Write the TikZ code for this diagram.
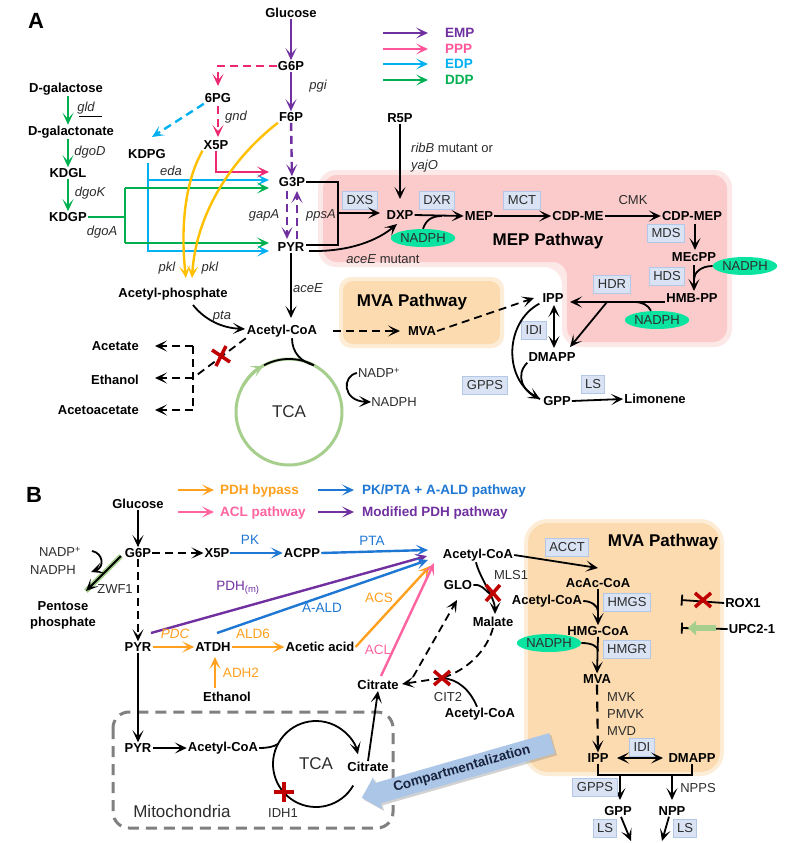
\documentclass[tikz,border=0pt]{standalone}
\usepackage{fontspec}
\setmainfont{Liberation Sans}
\usetikzlibrary{arrows.meta,shapes.geometric,shapes.arrows,shadows}
\definecolor{emp}{RGB}{112,48,160}
\definecolor{ppp}{RGB}{236,40,115}
\definecolor{pppl}{RGB}{255,85,155}
\definecolor{edp}{RGB}{0,176,240}
\definecolor{ddp}{RGB}{0,176,80}
\definecolor{pkl}{RGB}{255,192,0}
\definecolor{enzfill}{RGB}{218,227,243}
\definecolor{enzdraw}{RGB}{180,199,231}
\definecolor{nadph}{RGB}{10,228,160}
\definecolor{mepbg}{RGB}{251,203,203}
\definecolor{mvabg}{RGB}{251,219,175}
\definecolor{tcagreen}{RGB}{166,206,140}
\definecolor{bor}{RGB}{255,160,30}
\definecolor{bblue}{RGB}{31,119,212}
\definecolor{bpink}{RGB}{255,100,160}
\definecolor{xred}{RGB}{192,0,0}
\definecolor{mitogray}{RGB}{128,128,128}
\definecolor{comp}{RGB}{172,198,232}
\definecolor{compt}{RGB}{25,35,60}
\definecolor{txtgray}{RGB}{45,45,45}
\begin{document}
\begin{tikzpicture}[x=1pt,y=-1pt,
  m/.style={font=\fontsize{13}{15}\selectfont\bfseries, inner sep=1pt},
  lab/.style={font=\fontsize{13}{15}\selectfont, inner sep=1pt, text=txtgray},
  it/.style={font=\fontsize{13}{15}\selectfont\itshape, inner sep=1pt, text=txtgray},
  enz/.style={draw=enzdraw, fill=enzfill, line width=1pt, font=\fontsize{13}{15}\selectfont, text=txtgray, inner xsep=4pt, inner ysep=2pt, minimum height=18pt},
  nad/.style={ellipse, fill=nadph, font=\fontsize{13}{15}\selectfont, text=txtgray, inner sep=0pt, minimum width=57pt, minimum height=18pt},
  big/.style={font=\fontsize{17}{19}\selectfont\bfseries, inner sep=1pt},
  arr/.style={-{Stealth[length=12pt,width=11pt,inset=6pt]}, line width=1.8pt},
  arrb/.style={{Stealth[length=12pt,width=11pt,inset=6pt]}-{Stealth[length=12pt,width=11pt,inset=6pt]}, line width=1.8pt},
  lw/.style={line width=1.8pt},
  lw2/.style={line width=2.4pt},
  dsh/.style={dash pattern=on 8pt off 5pt},
  xr/.style={xred, line width=3.5pt}
]
\useasboundingbox[fill=white] (0,0) rectangle (800,843);

% ---------- backgrounds ----------
\fill[mepbg!45, rounded corners=18pt] (318,170) -- (732,170) -- (732,347) -- (562,347) -- (562,267) -- (318,267) -- cycle;
\fill[mepbg, rounded corners=14pt] (323,175) -- (727,175) -- (727,342) -- (567,342) -- (567,262) -- (323,262) -- cycle;
\fill[mvabg!50, rounded corners=12pt] (339,277) rectangle (504,348);
\fill[mvabg, rounded corners=10pt] (343,281) rectangle (500,344);
\fill[mvabg!50, rounded corners=24pt] (524,519) rectangle (724,776);
\fill[mvabg, rounded corners=20pt] (528,523) rectangle (720,772);

% ================= PANEL A =================
\node[font=\fontsize{22}{24}\selectfont\bfseries] (labA) at (36,21) {A};

% legend
\coordinate (l1a) at (383,33); \coordinate (l1b) at (428,33);
\coordinate (l2a) at (383,49); \coordinate (l2b) at (428,49);
\coordinate (l3a) at (383,64); \coordinate (l3b) at (428,64);
\coordinate (l4a) at (383,80); \coordinate (l4b) at (428,80);
\draw[arr,emp,lw2] (l1a) -- (l1b);
\draw[arr,pppl,lw2] (l2a) -- (l2b);
\draw[arr,edp,lw2] (l3a) -- (l3b);
\draw[arr,ddp,lw2] (l4a) -- (l4b);
\node[m,font=\fontsize{13.5}{15}\selectfont\bfseries,text=emp,anchor=west] (l1t) at (444,33) {EMP};
\node[m,font=\fontsize{13.5}{15}\selectfont\bfseries,text=pppl,anchor=west] (l2t) at (444,49) {PPP};
\node[m,font=\fontsize{13.5}{15}\selectfont\bfseries,text=edp,anchor=west] (l3t) at (444,64) {EDP};
\node[m,font=\fontsize{13.5}{15}\selectfont\bfseries,text=ddp,anchor=west] (l4t) at (444,80) {DDP};

% EMP column
\node[m] (glc) at (291,13) {Glucose};
\node[m] (g6p) at (291,66) {G6P};
\node[m] (f6p) at (291,117) {F6P};
\node[m] (g3p) at (292,182) {G3P};
\node[m] (pyr) at (291,247) {PYR};
\draw[arr,emp,lw2] (glc) -- (g6p);
\draw[arr,emp,lw2] (g6p) -- (f6p);
\draw[arr,emp,lw2,dsh] (f6p) -- (g3p);
\coordinate (gaT) at (287,191); \coordinate (gaB) at (287,239);
\coordinate (ppT) at (297,191); \coordinate (ppB) at (297,239);
\draw[arr,emp,lw2,dsh] (gaT) -- (gaB);
\draw[arr,emp,lw2,dsh] (ppB) -- (ppT);
\node[it] (pgi) at (318,86) {pgi};
\node[it] (gapa) at (264,215) {gapA};
\node[it] (ppsa) at (321,215) {ppsA};

% PPP
\node[m] (sixpg) at (218,98) {6PG};
\node[m] (x5p) at (216,145) {X5P};
\coordinate (sixT) at (218,86);
\draw[arr,ppp,lw2,dsh] (g6p.west) -| (sixT);
\coordinate (gndA) at (218,106); \coordinate (gndB) at (218,137);
\draw[arr,ppp,lw2,dsh] (gndA) -- (gndB);
\node[it] (gnd) at (236,117) {gnd};
\coordinate (g3pP) at (269,172); \coordinate (g3pC) at (269,180); \coordinate (g3pG) at (269,188);
\coordinate (pyrG) at (269,243); \coordinate (pyrC) at (269,251);

% EDP
\node[m] (kdpg) at (147,154) {KDPG};
\coordinate (edpE) at (152,137);
\draw[arr,edp,lw2,dsh] (sixpg.south west) -- (edpE);
\coordinate (edpV) at (148,163);
\coordinate (edpJ) at (148,180);
\draw[arr,edp,lw2] (edpV) |- (pyrC);
\draw[arr,edp,lw2] (edpJ) -- (g3pC);
\node[it] (eda) at (171,171) {eda};

% DDP
\node[m] (dgal) at (66,89) {D-galactose};
\node[m] (dgalo) at (71,132) {D-galactonate};
\node[m] (kdgl) at (68,173) {KDGL};
\node[m] (kdgp) at (68,217) {KDGP};
\draw[arr,ddp,lw2] (kdgl|-dgal.south) -- (kdgl|-dgalo.north);
\draw[arr,ddp,lw2] (kdgl|-dgalo.south) -- (kdgl.north);
\draw[arr,ddp,lw2] (kdgl.south) -- (kdgp.north);
\node[it] (gld) at (86,108) {gld};
\draw[line width=1pt] ([xshift=3pt,yshift=-1pt]gld.south west) -- ([xshift=6pt,yshift=-1pt]gld.south east);
\node[it] (dgod) at (90,152) {dgoD};
\node[it] (dgok) at (90,193) {dgoK};
\node[it] (dgoa) at (102,232) {dgoA};
\coordinate (ddJ1) at (125,188); \coordinate (ddJ2) at (125,243);
\draw[ddp,lw2] (kdgp.east) -- (kdgp.east -| ddJ1);
\draw[ddp,lw2] (ddJ1) -- (ddJ2);
\draw[arr,ddp,lw2] (ddJ1) -- (g3pG);
\draw[arr,ddp,lw2] (ddJ2) -- (pyrG);
\draw[arr,ppp,lw2] (x5p.south) |- (g3pP);

% pkl
\node[m] (acp) at (173,294) {Acetyl-phosphate};
\coordinate (pk1) at (186,278); \coordinate (pk2) at (192,278);
\draw[arr,pkl,lw2] (x5p.south west) .. controls (183,185) and (181,235) .. (pk1);
\draw[arr,pkl,lw2] (f6p.south west) .. controls (230,160) and (196,215) .. (pk2);
\node[it] (pkl1) at (167,268) {pkl};
\node[it] (pkl2) at (210,268) {pkl};

% Acetyl-CoA
\node[m] (accoa) at (282,331) {Acetyl-CoA};
\coordinate (aceT) at (291,318);
\draw[arr] (pyr.south) -- (aceT);
\node[it] (acee) at (308,288) {aceE};
\coordinate (ptaS) at (193,305); \coordinate (ptaE) at (245,329);
\draw[arr] (ptaS) .. controls (205,320) and (222,328) .. (ptaE);
\node[it] (pta) at (222,317) {pta};

\node[m,anchor=east] (acetate) at (140,346) {Acetate};
\node[m,anchor=east] (ethanol) at (140,380) {Ethanol};
\node[m,anchor=east] (acetoac) at (140,410) {Acetoacetate};
\coordinate (jT) at (193,346); \coordinate (jM) at (193,378); \coordinate (jB) at (193,410);
\coordinate (aT) at (155,346); \coordinate (eT) at (155,378); \coordinate (oT) at (155,410);
\draw[lw,dsh] (accoa.south west) -- (jM);
\draw[lw,dsh] (jT) -- (jB);
\draw[arr,dsh] (jT) -- (aT);
\draw[arr,dsh] (jM) -- (eT);
\draw[arr,dsh] (jB) -- (oT);
\coordinate (x1) at (221,356);
\draw[xr] (x1) ++(-9,-6) -- ++(18,12) (x1) ++(5,-10) -- ++(-10,20);

% TCA A
\coordinate (tcaAc) at (289,412);
\draw[tcagreen, line width=3pt] (tcaAc) circle[radius=53pt];
\node[font=\fontsize{17}{19}\selectfont, text=txtgray] (tcaA) at (tcaAc) {TCA};
\draw[lw] ([shift={(118:53pt)}]tcaAc) arc[start angle=118, end angle=62, radius=53pt];
\draw[tcagreen, line width=3pt, -{Stealth[length=12pt,width=12pt,inset=6pt]}] ([shift={(150:53pt)}]tcaAc) arc[start angle=150, end angle=119, radius=53pt];
\draw[lw] ([xshift=10pt]accoa.south) .. controls +(0,15) and +(-12,-3) .. ([shift={(62:53pt)}]tcaAc);
\node[lab] (nadpA) at (379,373) {NADP\textsuperscript{+}};
\node[lab] (nadphA) at (394,402) {NADPH};
\draw[arr] (nadpA.west) .. controls (342,376) and (342,401) .. ([xshift=1pt]nadphA.west);

% MVA A
\node[big] (mvalA) at (412,302) {MVA Pathway};
\node[m] (mvaA) at (422,331) {MVA};
\coordinate (mvS) at (333,331); \coordinate (mvE) at (400,331);
\draw[arr,dsh] (mvS) -- (mvE);
\coordinate (ippT) at (534,298);
\draw[arr,dsh] (mvaA.east) -- (ippT);

% MEP
\node[m] (dxp) at (400,215) {DXP};
\node[enz] (dxs) at (360,200) {DXS};
\coordinate (brkb) at (338,245); \coordinate (brk) at (338,213); \coordinate (dxpW) at (380,213);
\draw[lw] (g3p.east) -| (brkb) -- (pyr.east|-brkb);
\draw[arr] (brk) -- (dxpW);
\node[m] (r5p) at (400,118) {R5P};
\coordinate (dxpN) at (400,199);
\draw[arr] (r5p.south) -- (dxpN);
\node[lab, align=left, anchor=west, font=\fontsize{13}{17}\selectfont] (ribb) at (410,158) {\textit{ribB} mutant or\\\textit{yajO}};
\coordinate (aceS) at (309,251); \coordinate (dxpSW) at (397,224);
\draw[arr] (aceS) .. controls (350,252) and (378,240) .. (dxpSW);
\node[lab] (acem) at (383,259) {\textit{aceE} mutant};
\node[nad] (nad1) at (423,238) {NADPH};
\node[m] (mep) at (479,216) {MEP};
\node[enz] (dxr) at (437,200) {DXR};
\draw[arr] (dxp.east) -- (mep.west);
\coordinate (j1) at (442,216);
\draw[lw] (nad1.north) .. controls +(3,-9) and +(-10,0) .. (j1);
\node[enz] (mct) at (522,200) {MCT};
\node[m] (cdpme) at (578,216) {CDP-ME};
\draw[arr] (mep.east) -- (cdpme.west);
\node[lab] (cmk) at (633,200) {CMK};
\node[m] (cdpmep) at (692,216) {CDP-MEP};
\draw[arr] (cdpme.east) -- (cdpmep.west);
\node[enz] (mds) at (666,233) {MDS};
\node[m] (mecpp) at (694,257) {MEcPP};
\coordinate (c1) at (695,224); \coordinate (c2) at (695,250);
\draw[arr] (c1) -- (c2);
\node[big] (mepl) at (548,241) {MEP Pathway};
\node[enz] (hds) at (667,276) {HDS};
\node[m] (hmbpp) at (692,298) {HMB-PP};
\coordinate (c3) at (694,265); \coordinate (c4) at (694,291);
\draw[arr] (c3) -- (c4);
\node[nad] (nad2) at (745,266) {NADPH};
\coordinate (j2) at (694,279);
\draw[lw] (nad2.west) .. controls +(-12,0) and +(0,-6) .. (j2);
\node[m] (ippA) at (553,298) {IPP};
\node[m] (dmappA) at (552,357) {DMAPP};
\node[enz] (hdr) at (612,284) {HDR};
\coordinate (ippE) at (570,302);
\draw[arr] (hmbpp.west|-ippE) -- (ippE);
\coordinate (j3) at (607,302); \coordinate (dmT) at (570,347);
\draw[arr] (j3) -- (dmT);
\node[nad] (nad3) at (657,320) {NADPH};
\coordinate (j4) at (634,302);
\draw[lw] ([xshift=-6pt]nad3.north) .. controls +(-3,-6) and +(8,0) .. (j4);
\node[enz] (idiA) at (534,330) {IDI};
\coordinate (iA1) at (554,305); \coordinate (iA2) at (554,348);
\draw[arrb] (iA1) -- (iA2);
\node[enz] (gppsA) at (485,385) {GPPS};
\node[m] (gppA) at (557,401) {GPP};
\node[m] (limo) at (655,399) {Limonene};
\node[enz] (lsA) at (593,384) {LS};
\draw[arr] (gppA.east) -- (limo.west);
\coordinate (gppin) at (540,399);
\draw[arr] ([xshift=-2pt]ippA.south west) .. controls (505,322) and (503,378) .. (gppin);
\draw[lw] (dmappA.south west) .. controls (515,375) and (522,392) .. (gppin);

% ================= PANEL B =================
\node[font=\fontsize{22}{24}\selectfont\bfseries] (labB) at (34,495) {B};
\coordinate (b1a) at (178,490); \coordinate (b1b) at (214,490);
\coordinate (b2a) at (318,490); \coordinate (b2b) at (354,490);
\coordinate (b3a) at (178,512); \coordinate (b3b) at (214,512);
\coordinate (b4a) at (318,512); \coordinate (b4b) at (354,512);
\draw[arr,bor,lw2] (b1a) -- (b1b);
\draw[arr,bblue,lw2] (b2a) -- (b2b);
\draw[arr,bpink,lw2] (b3a) -- (b3b);
\draw[arr,emp,lw2] (b4a) -- (b4b);
\node[m,font=\fontsize{13.5}{15}\selectfont\bfseries,text=bor,anchor=west] (b1t) at (219,491) {PDH bypass};
\node[m,font=\fontsize{13.5}{15}\selectfont\bfseries,text=bblue,anchor=west] (b2t) at (361,491) {PK/PTA + A-ALD pathway};
\node[m,font=\fontsize{13.5}{15}\selectfont\bfseries,text=bpink,anchor=west] (b3t) at (219,513) {ACL pathway};
\node[m,font=\fontsize{13.5}{15}\selectfont\bfseries,text=emp,anchor=west] (b4t) at (361,513) {Modified PDH pathway};

\node[m] (glcB) at (138,504) {Glucose};
\node[m] (g6pB) at (138,553) {G6P};
\draw[arr] (glcB) -- (g6pB);
\node[m] (x5pB) at (217,553) {X5P};
\draw[arr,dsh] (g6pB) -- (x5pB);
\node[m] (acpp) at (302,553) {ACPP};
\draw[arr,bblue,lw2] (x5pB) -- (acpp);
\node[lab,text=bblue,font=\fontsize{13.5}{15}\selectfont] (pk) at (250,540) {PK};
\node[m] (accoaB) at (478,555) {Acetyl-CoA};
\coordinate (tPTA) at (428,550); \coordinate (tPDH) at (427,556); \coordinate (tALD) at (428,560);
\coordinate (tACS) at (430,566); \coordinate (tACL) at (434,563);
\draw[arr,bblue,lw2] (acpp.east) -- (tPTA);
\node[lab,text=bblue,font=\fontsize{13.5}{15}\selectfont] (ptaB) at (372,541) {PTA};

\node[lab] (nadpB) at (60,552) {NADP\textsuperscript{+}};
\node[lab] (nadphB) at (53,570) {NADPH};
\node[lab] (zwf) at (115,589) {ZWF1};
\node[m, align=center, font=\fontsize{13}{16}\selectfont\bfseries] (pent) at (63,615) {Pentose\\phosphate};
\coordinate (zS) at (121,556); \coordinate (zE) at (86,591);
\draw[tcagreen, line width=5pt] (zS) -- (zE);
\draw[arr] (zS) -- (zE);
\coordinate (nS) at (92,551); \coordinate (nE) at (91,572);
\draw[arr] (nS) .. controls (103,553) and (105,567) .. (nE);

\node[m] (pyrB) at (138,647) {PYR};
\draw[arr,dsh] (g6pB) -- (pyrB);
\coordinate (pdhS) at (151,633);
\draw[arr,emp,lw2] (pdhS) -- (tPDH);
\node[lab,text=emp,font=\fontsize{13.5}{15}\selectfont] (pdhm) at (238,588) {PDH\textsubscript{(m)}};
\node[m] (atdh) at (213,647) {ATDH};
\draw[arr,bor,lw2] (pyrB) -- (atdh);
\node[it,text=bor,font=\fontsize{13.5}{15}\selectfont\itshape] (pdc) at (175,634) {PDC};
\coordinate (aldS) at (217,633);
\draw[arr,bblue,lw2] (aldS) -- (tALD);
\node[lab,text=bblue,font=\fontsize{13.5}{15}\selectfont] (aald) at (322,608) {A-ALD};
\node[m] (acet) at (320,647) {Acetic acid};
\draw[arr,bor,lw2] (atdh) -- (acet);
\node[lab,text=bor,font=\fontsize{13.5}{15}\selectfont] (ald6) at (253,634) {ALD6};
\draw[arr,bor,lw2] (acet.east) -- (tACS);
\node[lab,text=bor,font=\fontsize{13.5}{15}\selectfont] (acs) at (379,598) {ACS};
\node[m] (citc) at (378,685) {Citrate};
\coordinate (aclS) at (381,676);
\draw[arr,bpink,lw2] (aclS) -- (tACL);
\node[lab,text=bpink,font=\fontsize{13.5}{15}\selectfont] (acl) at (378,650) {ACL};
\node[m] (ethB) at (227,697) {Ethanol};
\coordinate (adhS) at (215,688); \coordinate (adhE) at (215,657);
\draw[arr,bor,lw2] (adhS) -- (adhE);
\node[lab,text=bor,font=\fontsize{13.5}{15}\selectfont] (adh2) at (241,673) {ADH2};

% mitochondria
\draw[mitogray, line width=3pt, dash pattern=on 11pt off 7pt, rounded corners=16pt] (113,712) rectangle (393,828);
\node[font=\fontsize{17}{19}\selectfont, text=txtgray] (mito) at (182,811) {Mitochondria};
\node[m] (pyrM) at (138,748) {PYR};
\draw[arr] (pyrB) -- (pyrM);
\node[m] (accoaM) at (223,748) {Acetyl-CoA};
\draw[arr] (pyrM) -- (accoaM);
\coordinate (tcaBc) at (316,764);
\draw[arr] ([shift={(-30:43pt)}]tcaBc) arc[start angle=-30, end angle=-347, radius=43pt];
\node[font=\fontsize{17}{19}\selectfont, text=txtgray] (tcaB) at (tcaBc) {TCA};
\draw[lw] (accoaM.east) .. controls +(8,0) and +(-4,3) .. ([shift={(152:43pt)}]tcaBc);
\node[m] (citm) at (368,767) {Citrate};
\draw[arr] (citm.north) -- (citc.south);
\node[lab] (idh1) at (283,813) {IDH1};
\coordinate (x3) at (284,792);
\draw[xr] (x3) ++(-10,0) -- ++(20,0) (x3) ++(0,-10) -- ++(0,20);

% compartmentalization arrow
\node[single arrow, shape border rotate=180, fill=comp, minimum height=198pt, single arrow head extend=6pt, inner xsep=4pt, inner ysep=4pt, rotate=16, drop shadow={opacity=0.35, shadow xshift=2pt, shadow yshift=-2pt}, font=\fontsize{13.5}{15}\selectfont\bfseries, text=compt] (compart) at (462,769) {Compartmentalization};

% middle
\node[m] (glo) at (458,585) {GLO};
\node[lab] (mls1) at (511,575) {MLS1};
\node[m] (malate) at (493,622) {Malate};
\coordinate (malT) at (495,614);
\draw[arr] ([xshift=-2pt]accoaB.south) .. controls +(3,14) and +(0,-16) .. (malT);
\coordinate (j7) at (490,594);
\draw[lw] (glo.east) .. controls +(8,-1) and +(-6,-5) .. (j7);
\coordinate (x4) at (493,593);
\draw[xr] (x4) ++(-7,-8) -- ++(14,16) (x4) ++(7,-8) -- ++(-14,16);
\coordinate (x2) at (442,678);
\coordinate (citE) at (402,684);
\draw[lw,dsh] (malate.south) .. controls (487,650) and (468,670) .. (x2);
\draw[arr,dsh] (x2) -- (citE);
\node[m] (accoa3) at (480,714) {Acetyl-CoA};
\draw[lw] ([xshift=-3pt]accoa3.north) .. controls (470,690) and (458,679) .. (x2);
\draw[xr] (x2) ++(-8,-7) -- ++(16,14) (x2) ++(8,-7) -- ++(-16,14);
\node[lab] (cit2) at (448,697) {CIT2};
\coordinate (dS) at (413,677); \coordinate (gloT) at (457,600);
\draw[arr,dsh] (dS) -- (gloT);

% MVA B
\node[big] (mvalB) at (663,542) {MVA Pathway};
\node[enz] (acct) at (567,547) {ACCT};
\node[m] (acaccoa) at (598,583) {AcAc-CoA};
\coordinate (acT) at (598,568);
\draw[arr] (accoaB.east) -- (acT);
\node[m] (accoa2) at (547,601) {Acetyl-CoA};
\node[enz] (hmgs) at (627,602) {HMGS};
\node[m] (hmgcoa) at (598,631) {HMG-CoA};
\draw[arr] (acaccoa.south) -- (hmgcoa.north);
\coordinate (j5) at (598,611);
\draw[lw] (accoa2.east) .. controls +(8,0) and +(0,-5) .. (j5);
\node[nad] (nad4) at (549,643) {NADPH};
\node[enz] (hmgr) at (627,649) {HMGR};
\node[m] (mvaB) at (597,679) {MVA};
\draw[arr] (hmgcoa.south) -- (mvaB.north);
\coordinate (j6) at (598,651);
\draw[lw] (nad4.east) .. controls +(10,0) and +(0,-5) .. (j6);
\node[m] (ippB) at (598,758) {IPP};
\node[m] (dmappB) at (692,758) {DMAPP};
\draw[arr,line width=2.2pt,dash pattern=on 10pt off 7pt] (mvaB.south) -- (ippB.north);
\node[lab,anchor=west] (mvk) at (606,697) {MVK};
\node[lab,anchor=west] (pmvk) at (606,714) {PMVK};
\node[lab,anchor=west] (mvd) at (606,731) {MVD};
\node[enz] (idiB) at (642,747) {IDI};
\coordinate (i1) at (617,758); \coordinate (i2) at (663,758);
\draw[arrb] (i1) -- (i2);
\coordinate (br) at (692,775);
\draw[lw] (ippB.south) |- (br) -- (dmappB.south);
\coordinate (ga) at (620,775); \coordinate (na) at (672,775);
\coordinate (gb) at (620,800); \coordinate (nb) at (672,800);
\draw[arr] (ga) -- (gb);
\draw[arr] (na) -- (nb);
\node[enz] (gppsB) at (595,787) {GPPS};
\node[lab] (npps) at (698,788) {NPPS};
\node[m] (gppB) at (618,811) {GPP};
\node[m] (nppB) at (672,811) {NPP};
\node[enz] (lsB1) at (605,828) {LS};
\node[enz] (lsB2) at (685,828) {LS};
\coordinate (gl) at (631,841); \coordinate (nl) at (662,841);
\draw[arr] ([xshift=3pt]gppB.south) -- (gl);
\draw[arr] ([xshift=-3pt]nppB.south) -- (nl);

% regulators
\node[m] (rox1) at (743,603) {ROX1};
\node[m] (upc) at (752,629) {UPC2-1};
\coordinate (rb) at (681,600); \coordinate (ub) at (681,628);
\draw[lw,-{Bar[width=11pt]}] (rox1.west) -- (rb);
\coordinate (x5) at (703,600);
\draw[xr] (x5) ++(-8,-7) -- ++(16,14) (x5) ++(8,-7) -- ++(-16,14);
\draw[lw,-{Bar[width=11pt]}] (upc.west) -- (ub);
\coordinate (gs) at (716,628); \coordinate (ge) at (688,628);
\draw[tcagreen, line width=6pt, -{Triangle[length=8pt,width=14pt]}] (gs) -- (ge);
\end{tikzpicture}
\end{document}
